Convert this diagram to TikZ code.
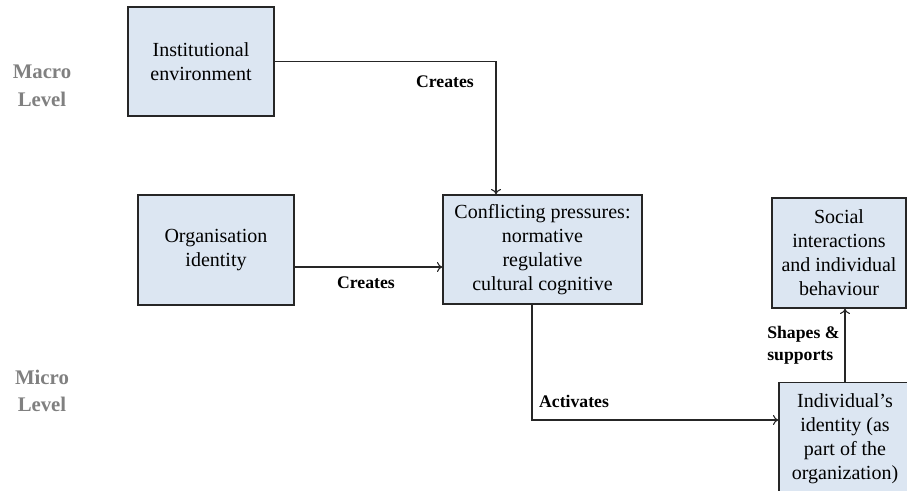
\documentclass[tikz,border=0pt]{standalone}
\usepackage{fontspec}
\setmainfont{Liberation Serif}
\usetikzlibrary{arrows.meta}

\begin{document}
\begin{tikzpicture}[x=0.65pt, y=-0.65pt,
        box/.style={draw=black!85, line width=0.8pt, fill=boxblue,
            align=center, inner sep=0pt, font=\fontsize{13}{15.6}\selectfont},
        lbl/.style={font=\fontsize{11.5}{14}\selectfont\bfseries, align=left, inner sep=0pt},
        lvl/.style={font=\fontsize{13.5}{18}\selectfont\bfseries, text=black!50, align=center, inner sep=0pt},
        link/.style={-{To[length=3.5pt, width=6.5pt]}, line width=0.7pt, draw=black!85}]
        \definecolor{boxblue}{HTML}{DCE6F2}
        \useasboundingbox (0,0) rectangle (907,490);
        \clip (0,0) rectangle (907,490);
        % levels
        \node[lvl] (macro) at (42,86) {Macro\\Level};
        \node[lvl] (micro) at (42,391) {Micro\\Level};
        % boxes
        \node[box, minimum width=94.9pt, minimum height=70.9pt] (inst) at (201,61.5) {Institutional\\environment};
        \node[box, minimum width=101.4pt, minimum height=71.5pt] (org) at (216,250) {Organisation\\identity};
        \node[box, minimum width=129.4pt, minimum height=70.9pt] (conf) at (542.5,249.5) {Conflicting pressures:\\normative\\regulative\\cultural cognitive};
        \node[box, minimum width=87.1pt, minimum height=71.5pt] (soc) at (839,253) {Social\\interactions\\and individual\\behaviour};
        \node[box, minimum width=85.8pt, minimum height=73pt] (ind) at (845,439) {Individual's\\identity (as\\part of the\\organization)};
        % connectors
        \coordinate (c1) at (496,62);
        \coordinate (c2) at (0,267);
        \coordinate (c3) at (532,420);
        \draw[link] (inst.east) -| (c1 |- conf.north);
        \draw[link] (org.east |- c2) -- (conf.west |- c2);
        \draw[link] (c3 |- conf.south) -- (c3) -- (ind.west |- c3);
        \draw[link] (ind.north) -- (ind.north |- soc.south);
        % labels
        \node[lbl] (l1) at (445,82) {Creates};
        \node[lbl] (l2) at (366,283) {Creates};
        \node[lbl] (l3) at (574,401) {Activates};
        \node[lbl, anchor=west] (l4) at (767,345) {Shapes \&\\supports};
    \end{tikzpicture}
\end{document}
